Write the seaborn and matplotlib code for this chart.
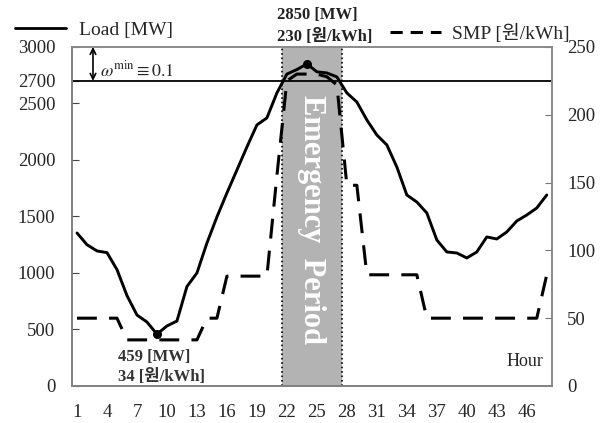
import pandas as pd
import matplotlib.pyplot as plt
import seaborn as sns
from matplotlib.lines import Line2D

# -----------------------------------
# Data
# -----------------------------------
hours = list(range(1, 49))
load_mw = [1354, 1250, 1195, 1180, 1030, 800, 628, 566, 459, 531, 575, 880,
           1000, 1265, 1496, 1708, 1911, 2115, 2310, 2372, 2593, 2760,
           2800, 2850, 2780, 2770, 2735, 2593, 2513, 2354, 2221, 2133,
           1938, 1690, 1628, 1531, 1292, 1186, 1177, 1133, 1186, 1319,
           1301, 1363, 1460, 1513, 1575, 1690]
smp = [50, 50, 50, 50, 50, 34, 34, 34, 34, 34, 34, 34,
       34, 50, 50, 81, 81, 81, 81, 81, 155, 225,
       230, 230, 230, 228, 222, 148, 148, 82, 82, 82,
       82, 82, 82, 50, 50, 50, 50, 50, 50, 50,
       50, 50, 50, 50, 50, 82]
xtick_labels = [1, 4, 7, 10, 13, 16, 19, 22, 25, 28, 31, 34, 37, 40, 43, 46]
left_ticks = [0, 500, 1000, 1500, 2000, 2500, 2700, 3000]
right_ticks = [0, 50, 100, 150, 200, 250]
emergency = (22, 27)

df = pd.DataFrame({"Hour": hours, "Load": load_mw, "SMP": smp})

sns.set_style("white")
plt.rcParams["font.family"] = ["Liberation Serif", "Noto Sans CJK KR"]
plt.rcParams["mathtext.fontset"] = "stix"

fig = plt.figure(figsize=(6.05, 4.23), dpi=100)
ax = fig.add_axes([0.119, 0.0875, 0.793, 0.8015])
ax2 = ax.twinx()

# emergency period shading
ax.axvspan(emergency[0] - 0.5, emergency[1] + 0.5, color="#b3b3b3", lw=0, zorder=0)
for xe in (emergency[0] - 0.5, emergency[1] + 0.5):
    ax.axvline(xe, color="black", ls=":", lw=1.2, zorder=1)
ax.text(sum(emergency) / 2, 1470, "Emergency  Period", rotation=-90,
        color="white", fontsize=22, fontweight="bold", ha="center", va="center")

# 2700 line with omega arrow
ax.axhline(2700, color="black", lw=1.3, zorder=2)
ax.annotate("", xy=(2.6, 3000), xytext=(2.6, 2700),
            arrowprops=dict(arrowstyle="<->", color="black", lw=1.2,
                            shrinkA=0, shrinkB=0))
ax.text(3.3, 2790, r"$\omega^{\rm min} \equiv 0.1$", fontsize=13, va="center")

sns.lineplot(data=df, x="Hour", y="Load", ax=ax, color="black", lw=2.1, zorder=3)
sns.lineplot(data=df, x="Hour", y="SMP", ax=ax2, color="black", lw=2.2,
             dashes=(6.5, 4), zorder=3)

# min / max markers
imax = load_mw.index(max(load_mw))
imin = load_mw.index(min(load_mw))
ax.scatter([hours[imax], hours[imin]], [load_mw[imax], load_mw[imin]],
           color="black", s=30, zorder=4)
ax.text(21.0, 3185, f"{load_mw[imax]} [MW]\n{smp[imax]} [원/kWh]",
        ha="left", va="center", fontsize=12, fontweight="bold",
        linespacing=1.45, color="#222222")
ax.text(5.1, 168, f"{load_mw[imin]} [MW]\n{smp[imin]} [원/kWh]",
        ha="left", va="center", fontsize=12, fontweight="bold",
        linespacing=1.3, color="#333333")
ax.text(47.7, 221, "Hour", ha="right", va="center", fontsize=13)

# axes
ax.set_xlim(0.5, 48.5)
ax.set_ylim(0, 3000)
ax2.set_ylim(0, 250)
ax.set_xticks([b + 0.5 for b in range(3, 48, 3)])
ax.set_xticklabels([])
ax.set_xticks(xtick_labels, minor=True)
ax.set_xticklabels(xtick_labels, minor=True)
ax.tick_params(axis="x", which="major", direction="in", length=5, color="#444444")
ax.tick_params(axis="x", which="minor", length=0, pad=13, labelsize=13.5)
ax.set_yticks(left_ticks)
ax.tick_params(axis="y", direction="in", length=5, pad=12, labelsize=13.5,
               color="#444444")
ax2.set_yticks(right_ticks)
ax2.tick_params(axis="y", direction="in", length=5, pad=11, labelsize=13.5,
                color="#777777")
ax.set_xlabel("")
ax.set_ylabel("")
ax2.set_ylabel("")
for a in (ax, ax2):
    for s in a.spines.values():
        s.set_color("#8a8a8a")
        s.set_linewidth(1.2)
ax.spines["left"].set_color("#444444")
ax.spines["bottom"].set_color("#444444")

# legends above the plot
h_load = Line2D([], [], color="black", lw=2)
h_smp = Line2D([], [], color="black", lw=2.2, dashes=(4, 2.6))
fig.legend(handles=[h_load], labels=["Load [MW]"], loc="center left",
           bbox_to_anchor=(15 / 605, 1 - 30 / 423), frameon=False, fontsize=14,
           handlelength=2.6, handletextpad=0.7, borderpad=0, borderaxespad=0)
fig.legend(handles=[h_smp], labels=["SMP [원/kWh]"], loc="center left",
           bbox_to_anchor=(390 / 605, 1 - 33 / 423), frameon=False, fontsize=14,
           handlelength=2.6, handletextpad=0.6, borderpad=0, borderaxespad=0)

plt.savefig("out.png", dpi=100)
